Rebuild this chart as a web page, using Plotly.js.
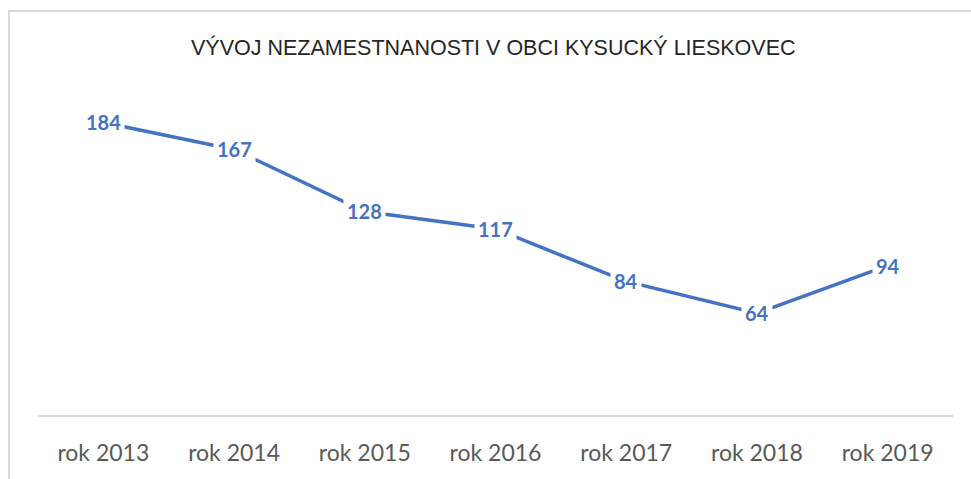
<!DOCTYPE html>
<html>
<head>
<meta charset="utf-8">
<script src="https://cdn.plot.ly/plotly-3.0.1.min.js"></script>
<style>
html,body{margin:0;padding:0;background:#fff;}
#wrap{position:relative;width:971px;height:479px;overflow:hidden;}
#chart{position:absolute;left:0;top:0;width:971px;height:479px;}
#frame{position:absolute;left:8px;top:10px;width:980px;height:500px;border-left:2px solid #d9d9d9;border-top:2px solid #d9d9d9;pointer-events:none;}
</style>
</head>
<body>
<div id="wrap"><div id="chart"></div><div id="frame"></div></div>
<script>
const categories = ["rok 2013","rok 2014","rok 2015","rok 2016","rok 2017","rok 2018","rok 2019"];
const values = [184,167,128,117,84,64,94];
const titleText = "VÝVOJ NEZAMESTNANOSTI V OBCI KYSUCKÝ LIESKOVEC";

const lineColor = "#4472C4";

const annotations = categories.map((c,i)=>({
  x: c, y: values[i], xref:'x', yref:'y',
  text: '<b>'+values[i]+'</b>', showarrow:false,
  bgcolor:'#ffffff', borderpad:3,
  font:{family:'Lato, "Open Sans", sans-serif', size:20, color:lineColor}
}));

const trace = {
  x: categories, y: values, type:'scatter', mode:'lines',
  line:{color:lineColor, width:3.5}, hoverinfo:'skip'
};

const layout = {
  width:971, height:479,
  margin:{l:37.5, r:17.5, t:97, b:64},
  paper_bgcolor:'#ffffff', plot_bgcolor:'#ffffff',
  showlegend:false,
  title:{text:titleText, x:0.508, xanchor:'center', y:1-47/479, yanchor:'middle', yref:'container',
    font:{family:'"Liberation Sans", Arial, sans-serif', size:21.5, color:'#262626'}},
  xaxis:{type:'category', range:[-0.5,6.5], showgrid:false, zeroline:false,
    showline:true, linecolor:'#d9d9d9', linewidth:2, ticks:'', ticklabelstandoff:16,
    tickfont:{family:'Lato, "Open Sans", sans-serif', size:23, color:'#595959'}},
  yaxis:{range:[0,200], visible:false, showgrid:false, zeroline:false, fixedrange:true},
  annotations: annotations
};

Plotly.newPlot('chart',[trace],layout,{displayModeBar:false, staticPlot:true});
</script>
</body>
</html>
